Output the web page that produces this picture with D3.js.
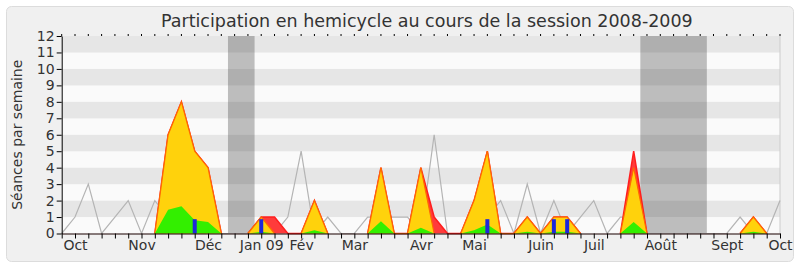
<!DOCTYPE html>
<html>
<head>
<meta charset="utf-8">
<script src="https://cdn.jsdelivr.net/npm/d3@7"></script>
<style>
    body { margin: 0; background: #fff; }
    text { font-family: "DejaVu Sans", sans-serif; fill: #333; }
</style>
</head>
<body>
<div class="main_content"></div>
<script>
// Weekly values, one per week of the session (55 weeks, Oct 2008 -> Oct 2009)
const medianSeances = [0, 1, 3, 0, 1, 2, 0, 2, 1, 2, 2, 1, 0, 0, 0, 1, 0, 1, 5, 0,
    1, 0, 0, 1, 1, 1, 1, 0, 6, 0, 0, 1, 1, 2, 0, 3, 0, 2, 0, 1,
    2, 0, 1, 1, 0, 0, 0, 0, 0, 0, 0, 1, 0, 0, 2];
const presencesTotal = [0, 0, 0, 0, 0, 0, 0, 0, 6, 8, 5, 4, 0, 0, 0, 1, 1, 0, 0, 2,
    0, 0, 0, 0, 4, 0, 0, 4, 1, 0, 0, 2, 5, 0, 0, 1, 0, 1, 1, 0,
    0, 0, 0, 5, 0, 0, 0, 0, 0, 0, 0, 0, 1, 0, 0];
const presences = [0, 0, 0, 0, 0, 0, 0, 0, 6, 8, 5, 4, 0, 0, 0, 1, 0, 0, 0, 2,
    0, 0, 0, 0, 4, 0, 0, 4, 0, 0, 0, 2, 5, 0, 0, 1, 0, 1, 1, 0,
    0, 0, 0, 4, 0, 0, 0, 0, 0, 0, 0, 0, 1, 0, 0];
const participations = [0, 0, 0, 0, 0, 0, 0, 0, 1.45, 1.65, 0.8, 0.7, 0, 0, 0, 0.1, 0, 0, 0, 0.2,
    0, 0, 0, 0, 0.75, 0, 0, 0.35, 0, 0, 0, 0.2, 0.55, 0, 0, 0.1, 0, 0.1, 0.1, 0,
    0, 0, 0, 0.7, 0, 0, 0, 0, 0, 0, 0, 0, 0.1, 0, 0];
const questions = [0, 0, 0, 0, 0, 0, 0, 0, 0, 0, 0.87, 0, 0, 0, 0, 0.87, 0, 0, 0, 0,
    0, 0, 0, 0, 0, 0, 0, 0, 0, 0, 0, 0, 0.87, 0, 0, 0, 0, 0.87, 0.87, 0,
    0, 0, 0, 0, 0, 0, 0, 0, 0, 0, 0, 0, 0, 0, 0];

const monthLabels = ['Oct', 'Nov', 'Déc', 'Jan 09', 'Fév', 'Mar', 'Avr', 'Mai', 'Juin', 'Juil', 'Août', 'Sept', 'Oct'];
const monthWeeks = [1, 6, 11, 15, 18, 22, 27, 31, 36, 40, 45, 50, 54];

// Parliamentary holidays (week positions)
const holidayStart = [12.5, 43.5];
const holidayEnd = [14.5, 48.5];

const yTicks = d3.range(0, 13);

class ParticipationChart {
    constructor() {
        this.width = 800;
        this.height = 267;
        this.margin = {top: 36, right: 20, bottom: 33.5, left: 61.7};
    }

    render() {
        let svg = d3.select('.main_content')
            .append('svg')
            .attr('width', this.width)
            .attr('height', this.height);

        // Frame
        svg.append('rect')
            .attr('x', 6.5).attr('y', 6.5)
            .attr('width', 787).attr('height', 255)
            .attr('rx', 5)
            .style('fill', '#f0f0f0')
            .style('stroke', '#dcdcdc');

        let x = d3.scaleLinear()
            .domain([0, presences.length - 1])
            .range([this.margin.left, this.width - this.margin.right]);

        let y = d3.scaleLinear()
            .domain([0, 12])
            .range([this.height - this.margin.bottom, this.margin.top]);

        // Background stripes
        svg.append('g').selectAll('rect')
            .data(d3.range(0, 12))
            .enter().append('rect')
            .attr('x', x(0))
            .attr('y', d => y(d + 1))
            .attr('width', x(presences.length - 1) - x(0))
            .attr('height', d => y(d) - y(d + 1))
            .style('fill', d => d % 2 === 1 ? '#e6e6e6' : '#fafafa');

        // Holidays
        svg.append('g').selectAll('rect')
            .data(holidayStart)
            .enter().append('rect')
            .attr('x', d => x(d))
            .attr('y', y(12))
            .attr('width', (d, i) => x(holidayEnd[i]) - x(d))
            .attr('height', y(0) - y(12))
            .style('fill', 'rgba(50,50,50,0.3)');

        // Right border of plot
        svg.append('line')
            .attr('x1', x(54)).attr('x2', x(54))
            .attr('y1', y(12)).attr('y2', y(0))
            .style('stroke', '#cccccc');

        // Median line
        let line = d3.line()
            .x((d, i) => x(i))
            .y(d => y(d));

        svg.append('path')
            .datum(medianSeances)
            .attr('d', line)
            .style('fill', 'none')
            .style('stroke', '#b4b4b4')
            .style('stroke-width', 1.2);

        let area = d3.area()
            .x((d, i) => x(i))
            .y0(y(0))
            .y1(d => y(d));

        // outline only where the series leaves zero
        let outline = series => d3.line()
            .defined((d, i) => d > 0 || series[i - 1] > 0 || series[i + 1] > 0)
            .x((d, i) => x(i))
            .y(d => y(d));

        // Total presence (red)
        svg.append('path')
            .datum(presencesTotal)
            .attr('d', area)
            .style('fill', '#ff3b3b');
        svg.append('path')
            .datum(presencesTotal)
            .attr('d', outline(presencesTotal))
            .style('fill', 'none')
            .style('stroke', '#ff1e1e')
            .style('stroke-width', 1.5);

        // Presence (yellow)
        svg.append('path')
            .datum(presences)
            .attr('d', area)
            .style('fill', '#ffd20c');
        svg.append('path')
            .datum(presences)
            .attr('d', outline(presences))
            .style('fill', 'none')
            .style('stroke', '#ff6a00')
            .style('stroke-width', 1.2);

        // Participations (green)
        svg.append('path')
            .datum(participations)
            .attr('d', area)
            .style('fill', '#33ef00');

        // Questions (blue bars)
        svg.append('g').selectAll('rect')
            .data(questions.map((v, i) => [i, v]).filter(d => d[1] > 0))
            .enter().append('rect')
            .attr('x', d => x(d[0]) - 2)
            .attr('y', d => y(d[1]))
            .attr('width', 4)
            .attr('height', d => y(0) - y(d[1]))
            .style('fill', '#1e28dc');

        // Y axis
        let yAxis = d3.axisLeft(y)
            .tickValues(yTicks)
            .tickSize(5)
            .tickSizeOuter(0)
            .tickFormat(d3.format('d'));

        let yAxisElements = svg.append('g')
            .attr('transform', 'translate(' + x(0) + ',0)')
            .call(yAxis);
        yAxisElements.select('.domain').style('stroke', '#000');
        yAxisElements.selectAll('.tick line').style('stroke', '#000');
        yAxisElements.selectAll('text')
            .attr('x', -7)
            .style('font-size', '14px')
            .style('font-family', '"DejaVu Sans", sans-serif')
            .style('fill', '#333');

        // X axis (weekly ticks, month labels)
        let xAxis = d3.axisBottom(x)
            .tickValues(d3.range(0, presences.length))
            .tickSize(5)
            .tickSizeOuter(0)
            .tickFormat(d => {
                let k = monthWeeks.indexOf(d);
                return k >= 0 ? monthLabels[k] : '';
            });

        let xAxisElements = svg.append('g')
            .attr('transform', 'translate(0,' + y(0) + ')')
            .call(xAxis);
        xAxisElements.select('.domain').style('stroke', '#1a0000');
        xAxisElements.selectAll('.tick line').style('stroke', '#000');
        xAxisElements.selectAll('text')
            .attr('y', 7)
            .style('font-size', '14px')
            .style('font-family', '"DejaVu Sans", sans-serif')
            .style('fill', '#333');

        // Small ticks on top edge
        svg.append('g').selectAll('line')
            .data(d3.range(0, presences.length))
            .enter().append('line')
            .attr('x1', d => x(d)).attr('x2', d => x(d))
            .attr('y1', y(12) - 2).attr('y2', y(12))
            .style('stroke', '#000');

        // Title
        svg.append('text')
            .attr('x', (x(0) + x(54)) / 2 + 6)
            .attr('y', 27)
            .attr('text-anchor', 'middle')
            .style('font-size', '17.5px')
            .text('Participation en hemicycle au cours de la session 2008-2009');

        // Y label
        svg.append('text')
            .attr('transform', 'translate(22,' + ((y(0) + y(12)) / 2) + ') rotate(-90)')
            .attr('text-anchor', 'middle')
            .style('font-size', '14px')
            .text('Séances par semaine');
    }
}

new ParticipationChart().render();
</script>
</body>
</html>
